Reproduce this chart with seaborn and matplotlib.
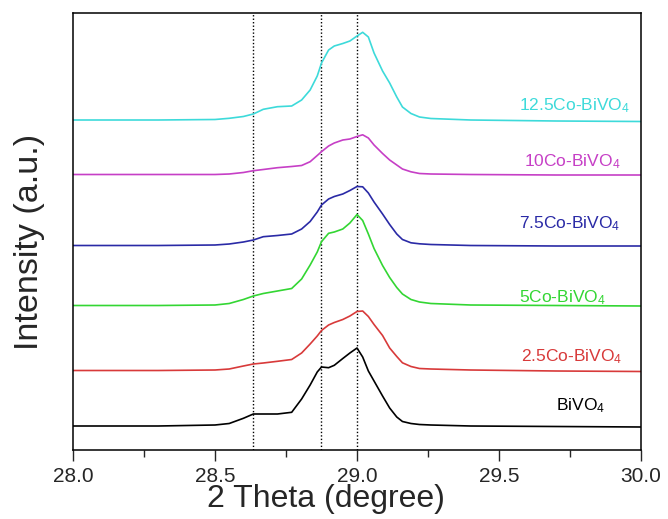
import numpy as np
import pandas as pd
import matplotlib
matplotlib.use("Agg")
import matplotlib.pyplot as plt
import seaborn as sns

# ---- data ----
theta = [28.0, 28.3, 28.5, 28.55, 28.6, 28.635, 28.67, 28.72, 28.77, 28.805,
         28.835, 28.86, 28.875, 28.9, 28.92, 28.95, 28.975, 29.0, 29.02, 29.04,
         29.06, 29.09, 29.115, 29.14, 29.16, 29.19, 29.22, 29.26, 29.4, 29.7, 30.0]

bivo4 = [24, 24, 25, 26.5, 31.7, 36, 36, 36, 37.7, 51, 65, 78, 83, 82.3, 84.7, 91.5,
         97, 102, 93, 79, 69, 54, 42, 33, 28.5, 26.5, 25.5, 25, 24, 23.5, 23]
co25 = [79.5, 79.5, 80, 81, 84, 86, 87, 88.7, 90.5, 97, 106, 114, 119.5, 125, 127.5,
        130.5, 134, 138.5, 139, 133.5, 125.5, 114.5, 102, 93.5, 87.2, 83.5, 81.5, 81,
        80, 79, 78.5]
co5 = [144.5, 144.5, 145, 146.5, 150.5, 154, 156.5, 159, 161.5, 171, 185, 198, 208.3,
       216.7, 218, 221, 227, 235.5, 229.5, 216, 201.5, 184.5, 172.5, 162.5, 156, 150.5,
       148, 146.5, 145, 144.5, 144]
co75 = [204.5, 204.5, 205, 206, 208, 210, 213.3, 214.5, 216, 221, 228.5, 238, 245, 251,
        253.5, 256, 259.5, 263.5, 263.2, 257, 248, 236, 225.5, 216, 210.5, 207.2, 206.2,
        205.5, 204.5, 204, 204]
co10 = [275.5, 275.5, 275.5, 276, 277.5, 279.3, 280.5, 282.3, 283.5, 284.5, 288.3, 294.5,
        298.3, 304, 307, 310, 311, 313.5, 315.2, 312, 305, 296.5, 290, 285, 281, 278.2,
        276.5, 276, 275.5, 275, 275]
co125 = [330, 330, 330.5, 331.7, 333.5, 336, 340.7, 343.3, 344, 350, 360, 374, 387, 400,
         404, 406.5, 409, 414, 417.7, 413, 397, 379, 367, 353, 343, 336.5, 333, 331.5,
         330, 329, 328.5]

samples = ["BiVO4", "2.5Co-BiVO4", "5Co-BiVO4", "7.5Co-BiVO4", "10Co-BiVO4", "12.5Co-BiVO4"]
labels = [r"BiVO$_4$", r"2.5Co-BiVO$_4$", r"5Co-BiVO$_4$", r"7.5Co-BiVO$_4$",
          r"10Co-BiVO$_4$", r"12.5Co-BiVO$_4$"]
label_x = [29.70, 29.577, 29.570, 29.570, 29.588, 29.570]
label_y = [40, 89, 148, 222, 284, 340]
ref_lines = [28.635, 28.873, 29.0]
xticks = [28.0, 28.5, 29.0, 29.5, 30.0]

colors = ["#000000", "#d83a3a", "#33d633", "#2a2aa6", "#c63fc6", "#3ddada"]

series = [bivo4, co25, co5, co75, co10, co125]
df = pd.concat([pd.DataFrame({"theta": theta, "intensity": s, "sample": name})
                for name, s in zip(samples, series)], ignore_index=True)

# ---- style ----
sns.set_style("white")
plt.rcParams["font.family"] = ["Liberation Sans", "DejaVu Sans"]
plt.rcParams["mathtext.fontset"] = "custom"
plt.rcParams["mathtext.rm"] = "Liberation Sans"
plt.rcParams["mathtext.it"] = "Liberation Sans"

fig = plt.figure(figsize=(6.68, 5.19), dpi=100)
ax = fig.add_axes([73 / 668, 69 / 519, 568 / 668, 437 / 519])

sns.lineplot(data=df, x="theta", y="intensity", hue="sample", hue_order=samples,
             palette=colors, legend=False, linewidth=1.2, estimator=None,
             sort=False, ax=ax)

for xv in ref_lines:
    ax.axvline(xv, color="black", linestyle=(0, (1, 1.5)), linewidth=1.0, zorder=1)

for lab, lx, ly, c in zip(labels, label_x, label_y, colors):
    ax.text(lx, ly, lab, color=c, fontsize=12.5, ha="left", va="baseline")

ax.set_xlim(28.0, 30.0)
ax.set_ylim(0, 437)
ax.set_xticks(xticks)
ax.set_xticklabels([f"{t:.1f}" for t in xticks])
ax.set_xticks(np.arange(28.25, 30.0, 0.5), minor=True)
ax.set_yticks([])
ax.tick_params(axis="x", which="major", direction="out", length=8, width=1.0,
               labelsize=15, pad=4, bottom=True, top=False)
ax.tick_params(axis="x", which="minor", direction="out", length=5, width=1.0,
               bottom=True, top=False)
for sp in ax.spines.values():
    sp.set_visible(True)
    sp.set_color("black")
    sp.set_linewidth(1.1)

ax.set_xlabel("2 Theta (degree)", fontsize=23)
ax.set_ylabel("Intensity (a.u.)", fontsize=24.5)
ax.xaxis.set_label_coords(0.445, -0.078)
ax.yaxis.set_label_coords(-0.05, 0.476)

fig.savefig("out.png", dpi=100)
